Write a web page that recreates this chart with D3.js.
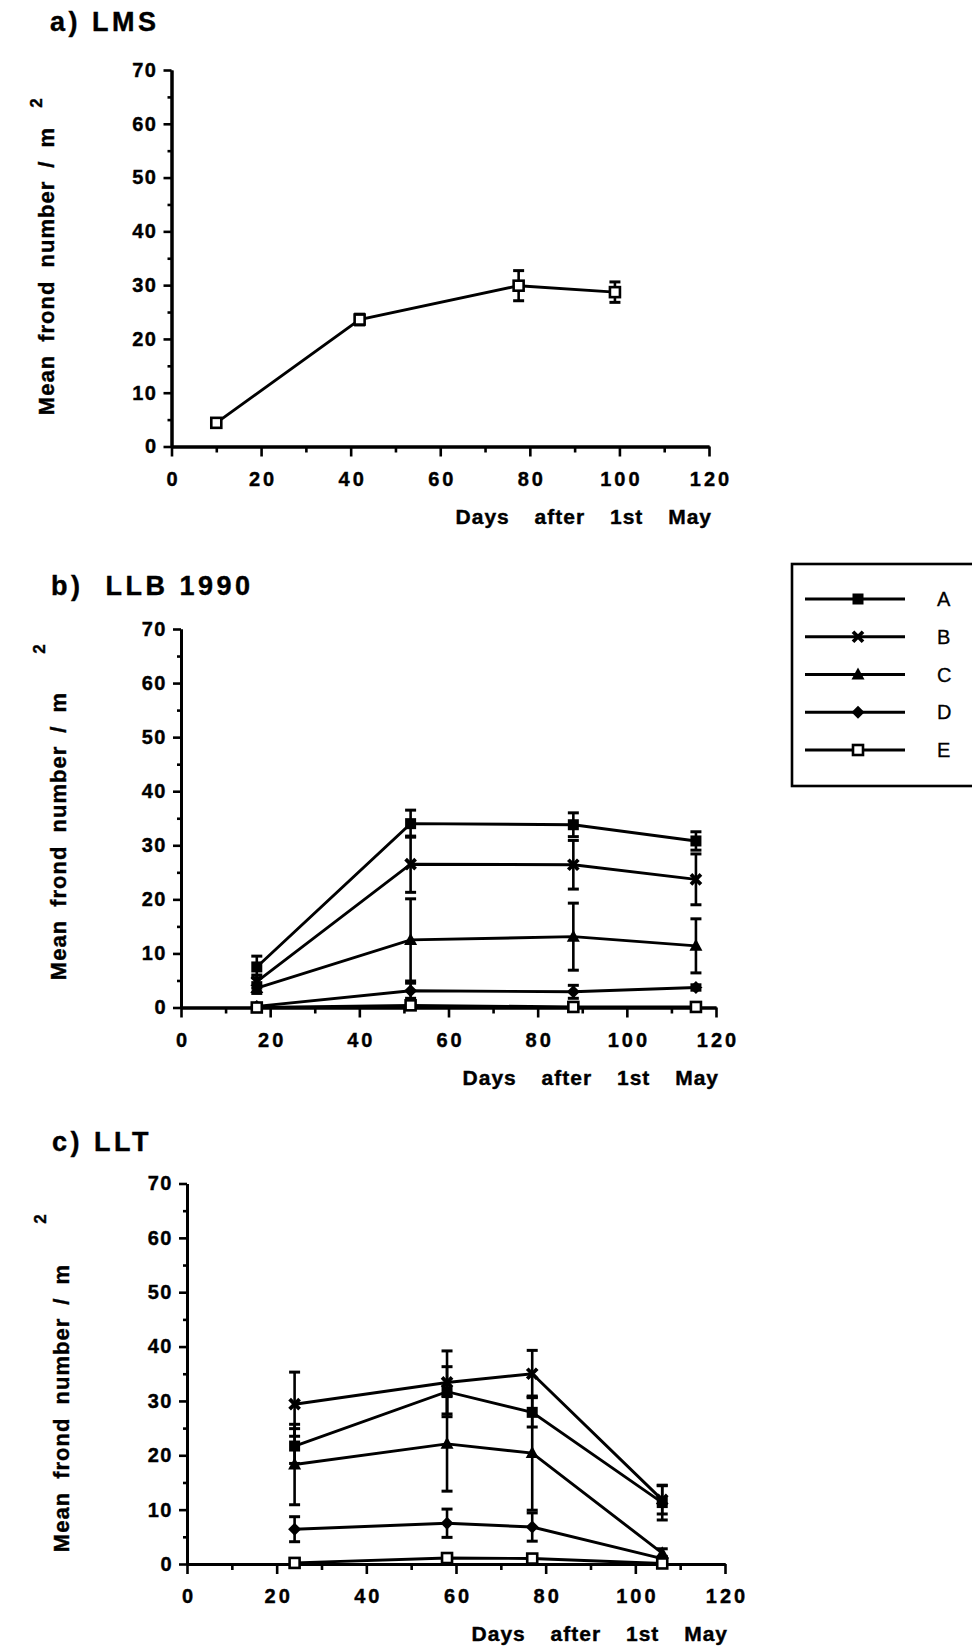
<!DOCTYPE html>
<html>
<head>
<meta charset="utf-8">
<script src="https://cdn.jsdelivr.net/npm/d3@7/dist/d3.min.js"></script>
<style>
  html, body { margin: 0; padding: 0; background: #fff; }
  svg { display: block; }
  text { font-family: 'Liberation Sans', Arial, Helvetica, sans-serif; fill: #000; }
</style>
</head>
<body>
<svg id="fig" width="972" height="1647"></svg>
<script>
// ---- axis ticks ----
const xMajorTicks = [0, 20, 40, 60, 80, 100, 120];
const xMinorTicks = [10, 30, 50, 70, 90, 110];
const yMajorTicks = [0, 10, 20, 30, 40, 50, 60, 70];
const yMinorTicks = [5, 15, 25, 35, 45, 55, 65];

// ---- series keys (legend) ----
const seriesKeys = ["A", "B", "C", "D", "E"];

// ---- a) LMS ----
const lmsDays = [10, 42, 77.5, 99];
const lmsMean = [4.4, 23.6, 29.9, 28.7];
const lmsErr  = [0.5, 1.0, 2.8, 1.9];

// ---- b) LLB 1990 ----
const llbDays = [17, 51.5, 88, 115.5];
const llbA    = [7.5, 34.0, 33.8, 30.8];
const llbAErr = [2.0, 2.5, 2.2, 1.7];
const llbB    = [4.8, 26.5, 26.4, 23.7];
const llbBErr = [1.2, 5.2, 4.5, 4.7];
const llbC    = [3.6, 12.5, 13.1, 11.4];
const llbCErr = [1.0, 7.6, 6.2, 5.0];
const llbD    = [0.2, 3.1, 2.9, 3.7];
const llbDErr = [0.0, 1.4, 1.2, 0.5];
const llbE    = [0.0, 0.4, 0.1, 0.1];
const llbEErr = [0.0, 0.0, 0.0, 0.0];

// ---- c) LLT ----
const lltDays = [24, 58, 77, 106];
const lltA    = [21.7, 31.7, 27.9, 11.3];
const lltAErr = [3.2, 4.6, 2.7, 3.2];
const lltB    = [29.4, 33.4, 35.0, 11.8];
const lltBErr = [5.9, 5.8, 4.3, 2.6];
const lltC    = [18.3, 22.1, 20.4, 2.0];
const lltCErr = [7.4, 8.7, 10.5, 0.8];
const lltD    = [6.4, 7.5, 6.8, 1.0];
const lltDErr = [2.3, 2.6, 2.6, 0.4];
const lltE    = [0.2, 1.1, 1.0, 0.1];
const lltEErr = [0.0, 0.0, 0.0, 0.0];

const panels = [
  {
    title: "a) LMS", titleX: 50, titleY: 31,
    x0: 171.5, x1: 709, yBottom: 446.5, yTop: 70,
    yTitleX: 54, yTitleMid: 271, supX: 42, supY: 103,
    series: [{ key: "E", days: lmsDays, mean: lmsMean, err: lmsErr }]
  },
  {
    title: "b)  LLB 1990", titleX: 51, titleY: 595,
    x0: 181, x1: 716, yBottom: 1007.5, yTop: 629,
    yTitleX: 66, yTitleMid: 836, supX: 45, supY: 649,
    series: [
      { key: "A", days: llbDays, mean: llbA, err: llbAErr },
      { key: "B", days: llbDays, mean: llbB, err: llbBErr },
      { key: "C", days: llbDays, mean: llbC, err: llbCErr },
      { key: "D", days: llbDays, mean: llbD, err: llbDErr },
      { key: "E", days: llbDays, mean: llbE, err: llbEErr }
    ]
  },
  {
    title: "c) LLT", titleX: 52, titleY: 1151,
    x0: 187, x1: 725, yBottom: 1564, yTop: 1183.5,
    yTitleX: 69, yTitleMid: 1408, supX: 46, supY: 1219,
    series: [
      { key: "A", days: lltDays, mean: lltA, err: lltAErr },
      { key: "B", days: lltDays, mean: lltB, err: lltBErr },
      { key: "C", days: lltDays, mean: lltC, err: lltCErr },
      { key: "D", days: lltDays, mean: lltD, err: lltDErr },
      { key: "E", days: lltDays, mean: lltE, err: lltEErr }
    ]
  }
];

const svg = d3.select("#fig");

// marker glyphs, drawn around (0,0)
function drawMarker(g, key) {
  if (key === "A") {
    g.append("rect").attr("x", -5.5).attr("y", -5.5).attr("width", 11).attr("height", 11).attr("fill", "#000");
  } else if (key === "B") {
    g.append("path").attr("d", "M-5,-5L5,5M5,-5L-5,5")
      .attr("stroke", "#000").attr("stroke-width", 3.8).attr("fill", "none");
  } else if (key === "C") {
    g.append("path").attr("d", "M0,-7L6.5,5L-6.5,5Z").attr("fill", "#000");
  } else if (key === "D") {
    g.append("path").attr("d", "M0,-6.5L6.5,0L0,6.5L-6.5,0Z").attr("fill", "#000");
  } else {
    g.append("rect").attr("x", -5).attr("y", -5).attr("width", 10).attr("height", 10)
      .attr("fill", "#fff").attr("stroke", "#000").attr("stroke-width", 2.6);
  }
}

function styleAxis(g) {
  g.select(".domain").attr("stroke", "#000").attr("stroke-width", 3);
  g.selectAll(".tick line").attr("stroke", "#000").attr("stroke-width", 2.6);
}

// slightly heavier glyphs for the bold labels
function heavy(sel) {
  sel.attr("font-weight", "bold").attr("stroke", "#000").attr("stroke-width", 0.4);
}

panels.forEach(p => {
  const x = d3.scaleLinear().domain([0, 120]).range([p.x0, p.x1]);
  const y = d3.scaleLinear().domain([0, 70]).range([p.yBottom, p.yTop]);
  const g = svg.append("g");

  // panel title
  g.append("text").attr("x", p.titleX).attr("y", p.titleY)
    .attr("font-size", 27).call(heavy)
    .style("letter-spacing", "3.5px").style("white-space", "pre")
    .text(p.title);

  // minor ticks
  g.append("g").attr("transform", `translate(0,${p.yBottom})`)
    .call(d3.axisBottom(x).tickValues(xMinorTicks).tickSize(6).tickSizeOuter(0).tickFormat(""))
    .call(styleAxis);
  g.append("g").attr("transform", `translate(${p.x0},0)`)
    .call(d3.axisLeft(y).tickValues(yMinorTicks).tickSize(4).tickSizeOuter(0).tickFormat(""))
    .call(styleAxis);

  // major ticks and labels
  const xAxis = g.append("g").attr("transform", `translate(0,${p.yBottom})`)
    .call(d3.axisBottom(x).tickValues(xMajorTicks).tickSize(10).tickSizeOuter(0).tickPadding(15))
    .call(styleAxis);
  xAxis.selectAll("text").attr("font-size", 20).attr("font-family", null).call(heavy)
    .style("letter-spacing", "3px").attr("dx", "1.5");

  const yAxis = g.append("g").attr("transform", `translate(${p.x0},0)`)
    .call(d3.axisLeft(y).tickValues(yMajorTicks).tickSize(8).tickSizeOuter(0).tickPadding(6))
    .call(styleAxis);
  yAxis.selectAll("text").attr("font-size", 20).attr("font-family", null).call(heavy)
    .style("letter-spacing", "1.5px");

  // axis titles
  g.append("text").attr("x", p.x1 + 3).attr("y", p.yBottom + 77)
    .attr("text-anchor", "end").attr("font-size", 21).call(heavy)
    .style("letter-spacing", "1px").style("word-spacing", "18px")
    .text("Days after 1st May");

  g.append("text")
    .attr("transform", `translate(${p.yTitleX},${p.yTitleMid}) rotate(-90)`)
    .attr("text-anchor", "middle").attr("font-size", 22).call(heavy)
    .style("letter-spacing", "1px").style("word-spacing", "6px")
    .text("Mean frond number / m");
  g.append("text")
    .attr("transform", `translate(${p.supX},${p.supY}) rotate(-90)`)
    .attr("text-anchor", "middle").attr("font-size", 17).call(heavy)
    .text("2");

  // connecting lines
  const line = d3.line().x(d => x(d[0])).y(d => y(d[1]));
  p.series.forEach(s => {
    g.append("path").datum(s.days.map((d, i) => [d, s.mean[i]]))
      .attr("d", line).attr("fill", "none").attr("stroke", "#000").attr("stroke-width", 2.9);
  });

  // error bars
  p.series.forEach(s => {
    s.days.forEach((d, i) => {
      const e = s.err[i];
      if (!e) return;
      const cx = x(d), hi = y(s.mean[i] + e), lo = y(Math.max(0, s.mean[i] - e));
      g.append("line").attr("x1", cx).attr("x2", cx).attr("y1", hi).attr("y2", lo)
        .attr("stroke", "#000").attr("stroke-width", 2.6);
      [hi, lo].forEach(yy => {
        g.append("line").attr("x1", cx - 5.5).attr("x2", cx + 5.5).attr("y1", yy).attr("y2", yy)
          .attr("stroke", "#000").attr("stroke-width", 3);
      });
    });
  });

  // markers
  p.series.forEach(s => {
    s.days.forEach((d, i) => {
      const m = g.append("g").attr("transform", `translate(${x(d)},${y(s.mean[i])})`);
      drawMarker(m, s.key);
    });
  });
});

// legend
const legend = svg.append("g");
legend.append("rect").attr("x", 792).attr("y", 564).attr("width", 220).attr("height", 222)
  .attr("fill", "none").attr("stroke", "#000").attr("stroke-width", 2.6);
const rowY = d3.scalePoint().domain(seriesKeys).range([599, 750]);
seriesKeys.forEach(k => {
  const ry = rowY(k);
  legend.append("line").attr("x1", 805).attr("x2", 905).attr("y1", ry).attr("y2", ry)
    .attr("stroke", "#000").attr("stroke-width", 2.8);
  drawMarker(legend.append("g").attr("transform", `translate(858,${ry})`), k);
  legend.append("text").attr("x", 937).attr("y", ry + 7).attr("font-size", 20)
    .attr("stroke", "#000").attr("stroke-width", 0.3).text(k);
});
</script>
</body>
</html>
